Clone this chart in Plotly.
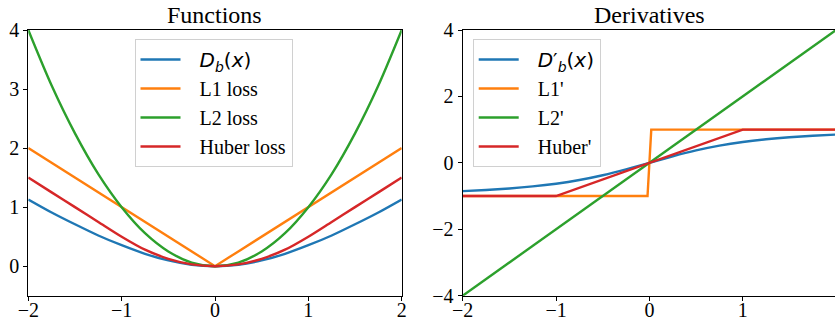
import plotly.graph_objects as go

W, H = 835, 322

# ---- data ----
xs = [-2.0, -1.75, -1.5, -1.25, -1.0, -0.75, -0.5, -0.25, 0.0,
      0.25, 0.5, 0.75, 1.0, 1.25, 1.5, 1.75, 2.0]

db_vals = [1.13, 0.91, 0.71, 0.52, 0.355, 0.21, 0.097, 0.024, 0.0,
           0.024, 0.097, 0.21, 0.355, 0.52, 0.71, 0.91, 1.13]
l1_vals = [2.0, 1.75, 1.5, 1.25, 1.0, 0.75, 0.5, 0.25, 0.0,
           0.25, 0.5, 0.75, 1.0, 1.25, 1.5, 1.75, 2.0]
l2_vals = [4.0, 3.06, 2.25, 1.56, 1.0, 0.56, 0.25, 0.06, 0.0,
           0.06, 0.25, 0.56, 1.0, 1.56, 2.25, 3.06, 4.0]
huber_vals = [1.5, 1.25, 1.0, 0.75, 0.5, 0.28, 0.125, 0.03, 0.0,
              0.03, 0.125, 0.28, 0.5, 0.75, 1.0, 1.25, 1.5]

dbp_vals = [-0.85, -0.816, -0.771, -0.71, -0.628, -0.518, -0.374, -0.198, 0.0,
            0.198, 0.374, 0.518, 0.628, 0.71, 0.771, 0.816, 0.85]
l1p_x = [-2.0, -0.02, 0.02, 2.0]
l1p_y = [-1.0, -1.0, 1.0, 1.0]
l2p_x = [-2.0, 2.0]
l2p_y = [-4.0, 4.0]
huberp_x = [-2.0, -1.0, 1.0, 2.0]
huberp_y = [-1.0, -1.0, 1.0, 1.0]

GAP = '\u2002\u2009'
left_names = ['<span style="font-family:DejaVu Sans"><i>D</i><sub><i>b</i></sub>(<i>x</i>)</span>',
              'L1 loss', 'L2 loss', 'Huber loss']
right_names = ['<span style="font-family:DejaVu Sans"><i>D</i>′<sub><i>b</i></sub>(<i>x</i>)</span>',
               "L1'", "L2'", "Huber'"]
titles = ['Functions', 'Derivatives']

colors = ['#1f77b4', '#ff7f0e', '#2ca02c', '#d62728']
SERIF = 'Liberation Serif'
LW = 2.4

fig = go.Figure()

left_series = [(xs, db_vals, 'spline'), (xs, l1_vals, 'linear'),
               (xs, l2_vals, 'spline'), (xs, huber_vals, 'spline')]
for i, (x, y, shp) in enumerate(left_series):
    fig.add_trace(go.Scatter(x=x, y=y, mode='lines', name=GAP + left_names[i],
                             line=dict(color=colors[i], width=LW, shape=shp, smoothing=0.8),
                             xaxis='x', yaxis='y', legend='legend'))

right_series = [(xs, dbp_vals, 'spline'), (l1p_x, l1p_y, 'linear'),
                (l2p_x, l2p_y, 'linear'), (huberp_x, huberp_y, 'linear')]
for i, (x, y, shp) in enumerate(right_series):
    fig.add_trace(go.Scatter(x=x, y=y, mode='lines', name=GAP + right_names[i],
                             line=dict(color=colors[i], width=LW, shape=shp, smoothing=0.8),
                             xaxis='x2', yaxis='y2', legend='legend2'))

# pixel geometry
lx0, lx1 = 28.3, 401.7
rx0, rx1 = 462.7, 835.0
ytop, ybot = 30.0, 295.7
px_per_unit = (lx1 - lx0) / 4.0
r_range_end = -2 + (rx1 - rx0) / px_per_unit

ydom = [(H - ybot) / H, (H - ytop) / H]

axis_common = dict(showline=True, linecolor='black', linewidth=1.2, mirror=True,
                   ticks='outside', ticklen=4, tickcolor='black', tickwidth=1.1,
                   showgrid=False, zeroline=False, automargin=False,
                   tickfont=dict(family=SERIF, size=20, color='black'))

fig.update_layout(
    width=W, height=H, autosize=False,
    font=dict(family=SERIF, size=20, color='black'),
    margin=dict(l=0, r=0, t=0, b=0, pad=0, autoexpand=False),
    paper_bgcolor='white', plot_bgcolor='white',
    xaxis=dict(domain=[lx0 / W, lx1 / W], range=[-2, 2], tickvals=[-2, -1, 0, 1, 2],
               anchor='y', ticklabelstandoff=-8, **axis_common),
    yaxis=dict(domain=ydom, range=[-0.5, 4], tickvals=[0, 1, 2, 3, 4],
               anchor='x', **axis_common),
    xaxis2=dict(domain=[rx0 / W, 1.0], range=[-2, r_range_end], tickvals=[-2, -1, 0, 1, 2],
                anchor='y2', ticklabelstandoff=-8, **axis_common),
    yaxis2=dict(domain=ydom, range=[-4, 4], tickvals=[-4, -2, 0, 2, 4],
                anchor='x2', **axis_common),
    legend=dict(x=134.5 / W, y=(H - 39) / H, xanchor='left', yanchor='top',
                bgcolor='rgba(255,255,255,0.8)', bordercolor='#d0d0d0', borderwidth=1,
                font=dict(family=SERIF, size=20, color='black'), itemwidth=40),
    legend2=dict(x=472.7 / W, y=(H - 39) / H, xanchor='left', yanchor='top',
                 bgcolor='rgba(255,255,255,0.8)', bordercolor='#d0d0d0', borderwidth=1,
                 font=dict(family=SERIF, size=20, color='black'), itemwidth=40),
    annotations=[
        dict(text=titles[0], x=(lx0 + lx1) / 2 / W, y=(H - 30) / H, xref='paper', yref='paper',
             xanchor='center', yanchor='bottom', showarrow=False,
             font=dict(family=SERIF, size=24, color='black')),
        dict(text=titles[1], x=(rx0 + 836) / 2 / W, y=(H - 30) / H, xref='paper', yref='paper',
             xanchor='center', yanchor='bottom', showarrow=False,
             font=dict(family=SERIF, size=24, color='black')),
    ],
    showlegend=True,
)

fig.write_html("out.html", config=dict(responsive=False))
